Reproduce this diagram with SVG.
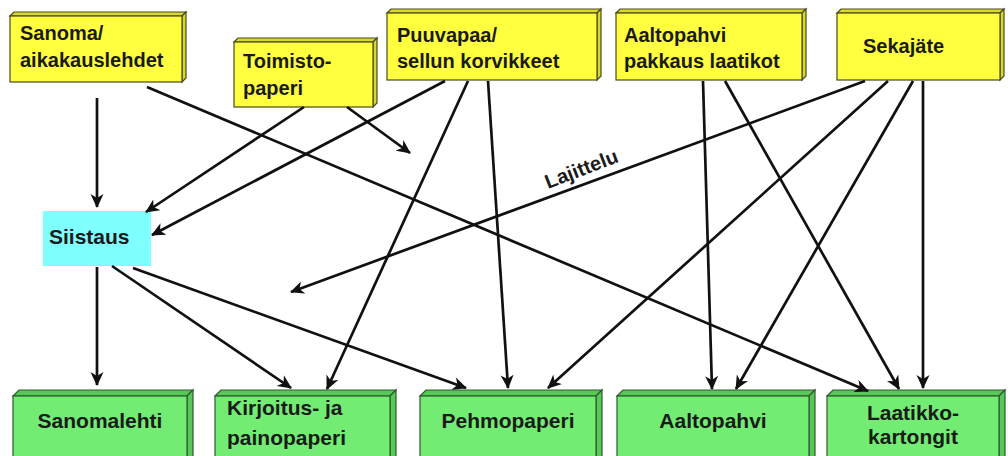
<svg xmlns="http://www.w3.org/2000/svg" width="1008" height="456" viewBox="0 0 1008 456">
<style>
.t{font-family:"Liberation Sans",Arial,sans-serif;font-weight:bold;font-size:20px;fill:#1a1a1a}
.b{font-size:21px}
.yf{fill:#FFFF40;stroke:#4a4a20;stroke-width:1.2}
.ys{fill:#D9D928;stroke:#4a4a20;stroke-width:1.2}
.gf{fill:#72EC72;stroke:#2f5a2f;stroke-width:1.2}
.gs{fill:#55C855;stroke:#2f5a2f;stroke-width:1.2}
.c line{stroke:#111;stroke-width:2.7;fill:none;marker-end:url(#ah)}
</style>
<defs>
<marker id="ah" viewBox="0 0 14 14" refX="13" refY="7" markerWidth="14" markerHeight="14" orient="auto" markerUnits="userSpaceOnUse">
<path d="M0,0.5 L14,7 L0,13.5 L4,7 z" fill="#111"/>
</marker>
</defs>
<rect width="1008" height="456" fill="#fff"/>

<g id="n-sanoma">
<polygon class="ys" points="10,16 14,12 186,12 182,16"/>
<polygon class="ys" points="182,16 186,12 186,78 182,82"/>
<rect class="yf" x="10" y="16" width="172" height="66"/>
<text class="t" x="20" y="40">Sanoma/</text>
<text class="t" x="20" y="67">aikakauslehdet</text>
</g>
<g id="n-toimisto">
<polygon class="ys" points="234,42 238,38 377,38 373,42"/>
<polygon class="ys" points="373,42 377,38 377,103 373,107"/>
<rect class="yf" x="234" y="42" width="139" height="65"/>
<text class="t" x="243" y="68">Toimisto-</text>
<text class="t" x="243" y="95">paperi</text>
</g>
<g id="n-puuvapaa">
<polygon class="ys" points="387,13 391,9 601,9 597,13"/>
<polygon class="ys" points="597,13 601,9 601,76 597,80"/>
<rect class="yf" x="387" y="13" width="210" height="67"/>
<text class="t" x="397" y="42">Puuvapaa/</text>
<text class="t" x="397" y="68">sellun korvikkeet</text>
</g>
<g id="n-aaltopahvi-top">
<polygon class="ys" points="616,13 620,9 806,9 802,13"/>
<polygon class="ys" points="802,13 806,9 806,76 802,80"/>
<rect class="yf" x="616" y="13" width="186" height="67"/>
<text class="t" x="624" y="42">Aaltopahvi</text>
<text class="t" x="624" y="68">pakkaus laatikot</text>
</g>
<g id="n-sekajate">
<polygon class="ys" points="837,13 841,9 1004,9 1000,13"/>
<polygon class="ys" points="1000,13 1004,9 1004,76 1000,80"/>
<rect class="yf" x="837" y="13" width="163" height="67"/>
<text class="t" x="863" y="53">Sekajäte</text>
</g>
<g id="n-siistaus">
<rect x="43" y="211" width="108" height="55" fill="#80FFFF"/>
<text class="t b" x="49" y="244">Siistaus</text>
</g>

<g id="n-sanomalehti">
<polygon class="gs" points="13,396 19,390 193,390 187,396"/>
<polygon class="gs" points="187,396 193,390 193,460 187,466"/>
<rect class="gf" x="13" y="396" width="174" height="70"/>
<text class="t b" x="100" y="428" text-anchor="middle">Sanomalehti</text>
</g>
<g id="n-kirjoitus">
<polygon class="gs" points="215,396 221,390 396,390 390,396"/>
<polygon class="gs" points="390,396 396,390 396,460 390,466"/>
<rect class="gf" x="215" y="396" width="175" height="70"/>
<text class="t b" x="227" y="415">Kirjoitus- ja</text>
<text class="t b" x="227" y="445">painopaperi</text>
</g>
<g id="n-pehmopaperi">
<polygon class="gs" points="420,396 426,390 602,390 596,396"/>
<polygon class="gs" points="596,396 602,390 602,460 596,466"/>
<rect class="gf" x="420" y="396" width="176" height="70"/>
<text class="t b" x="508" y="428" text-anchor="middle">Pehmopaperi</text>
</g>
<g id="n-aaltopahvi-bottom">
<polygon class="gs" points="617,396 623,390 815,390 809,396"/>
<polygon class="gs" points="809,396 815,390 815,460 809,466"/>
<rect class="gf" x="617" y="396" width="192" height="70"/>
<text class="t b" x="713" y="428" text-anchor="middle">Aaltopahvi</text>
</g>
<g id="n-laatikko">
<polygon class="gs" points="827,396 833,390 1005,390 999,396"/>
<polygon class="gs" points="999,396 1005,390 1005,460 999,466"/>
<rect class="gf" x="827" y="396" width="172" height="70"/>
<text class="t b" x="913" y="420" text-anchor="middle">Laatikko-</text>
<text class="t b" x="913" y="444" text-anchor="middle">kartongit</text>
</g>

<g id="connectors" class="c">
<line x1="97" y1="98" x2="97" y2="207"/>
<line x1="147" y1="87" x2="868" y2="391"/>
<line x1="304" y1="107" x2="146" y2="212"/>
<line x1="347" y1="107" x2="410" y2="153"/>
<line x1="445" y1="81" x2="152" y2="235"/>
<line x1="468" y1="81" x2="327" y2="389"/>
<line x1="488" y1="81" x2="508" y2="388"/>
<line x1="703" y1="81" x2="712" y2="389"/>
<line x1="725" y1="81" x2="899" y2="389"/>
<line x1="865" y1="81" x2="291" y2="292"/>
<line x1="888" y1="81" x2="548" y2="388"/>
<line x1="913" y1="81" x2="736" y2="389"/>
<line x1="923" y1="81" x2="923" y2="388"/>
<line x1="97" y1="267" x2="97" y2="385"/>
<line x1="112" y1="266" x2="291" y2="388"/>
<line x1="133" y1="268" x2="466" y2="388"/>
<text class="t" transform="translate(548,189) rotate(-21)" style="font-size:20px">Lajittelu</text>
</g>
</svg>
